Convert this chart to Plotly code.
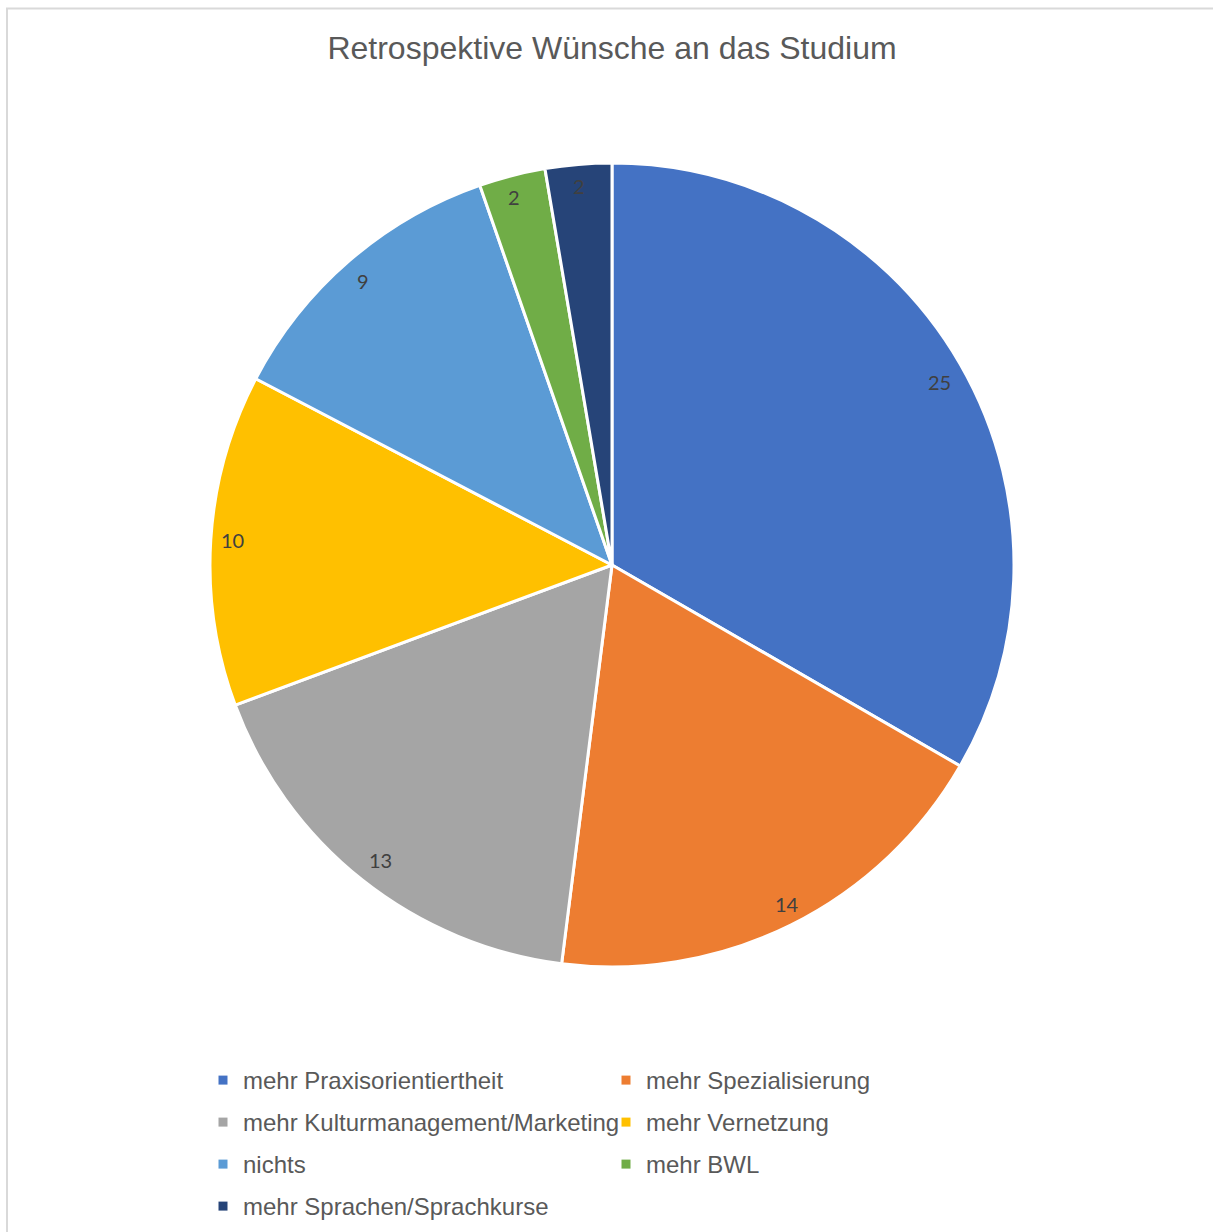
import math
import plotly.graph_objects as go

categories = [
    "mehr Praxisorientiertheit",
    "mehr Spezialisierung",
    "mehr Kulturmanagement/Marketing",
    "mehr Vernetzung",
    "nichts",
    "mehr BWL",
    "mehr Sprachen/Sprachkurse",
]
values = [25, 14, 13, 10, 9, 2, 2]
colors = ["#4472C4", "#ED7D31", "#A5A5A5", "#FFC000", "#5B9BD5", "#70AD47", "#264478"]

W, H = 1213, 1232
ML, MR, MT, MB = 11, 0, 163, 265
PW, PH = W - ML - MR, H - MT - MB


def px_to_paper(px, py):
    return (px - ML) / PW, (H - MB - py) / PH


fig = go.Figure(
    go.Pie(
        labels=categories,
        values=values,
        sort=False,
        direction="clockwise",
        rotation=0,
        marker=dict(colors=colors, line=dict(color="white", width=3)),
        textinfo="none",
        hoverinfo="label+value",
        showlegend=False,
    )
)

# legend entries (two columns, rows spaced like the original)
legend_font = dict(family="Liberation Sans, Arial, sans-serif", size=24, color="#595959")
row_centers = [1081, 1123, 1165, 1207]
legend_layouts = {}
for i, (cat, col) in enumerate(zip(categories, colors)):
    row = i // 2
    name = "legend" if row == 0 else f"legend{row + 1}"
    fig.add_trace(
        go.Scatter(
            x=[None], y=[None], mode="markers", name=cat,
            marker=dict(symbol="square", size=9, color=col),
            legend=name, hoverinfo="skip",
        )
    )
    if name not in legend_layouts:
        legend_layouts[name] = dict(
            orientation="h",
            entrywidth=358,
            entrywidthmode="pixels",
            x=px_to_paper(203, 0)[0],
            xanchor="left",
            y=px_to_paper(0, row_centers[row] - 23)[1],
            yanchor="top",
            font=legend_font,
            itemwidth=30,
            traceorder="normal",
            bgcolor="rgba(0,0,0,0)",
        )

# data labels placed along each slice bisector, near the outer edge
total = sum(values)
radius = min(PW, PH) / 2
cx, cy = ML + PW / 2, MT + PH / 2
cum = 0
annotations = []
for v in values:
    mid = (cum + v / 2) / total * 2 * math.pi
    cum += v
    r = radius * 0.98
    lx, ly = px_to_paper(cx + r * math.sin(mid), cy - r * math.cos(mid))
    annotations.append(
        dict(
            x=lx, y=ly, xref="paper", yref="paper", text=str(v), showarrow=False,
            font=dict(family="Lato, Open Sans, sans-serif", size=20, color="#404040"),
        )
    )

x0, y0 = px_to_paper(7, 8.5)
x1, y1 = px_to_paper(W + 50, H + 50)
fig.update_layout(
    width=W,
    height=H,
    margin=dict(l=ML, r=MR, t=MT, b=MB),
    paper_bgcolor="white",
    plot_bgcolor="white",
    xaxis=dict(visible=False),
    yaxis=dict(visible=False),
    title=dict(
        text="Retrospektive Wünsche an das Studium",
        x=0.5, xref="paper", xanchor="center",
        y=1 - 48 / H, yref="container", yanchor="middle",
        font=dict(family="Liberation Sans, Arial, sans-serif", size=32, color="#595959"),
    ),
    annotations=annotations,
    shapes=[
        dict(type="rect", xref="paper", yref="paper", x0=x0, y0=y1, x1=x1, y1=y0,
             line=dict(color="#D9D9D9", width=2), layer="below"),
    ],
    **legend_layouts,
)

fig.write_html("out.html")
